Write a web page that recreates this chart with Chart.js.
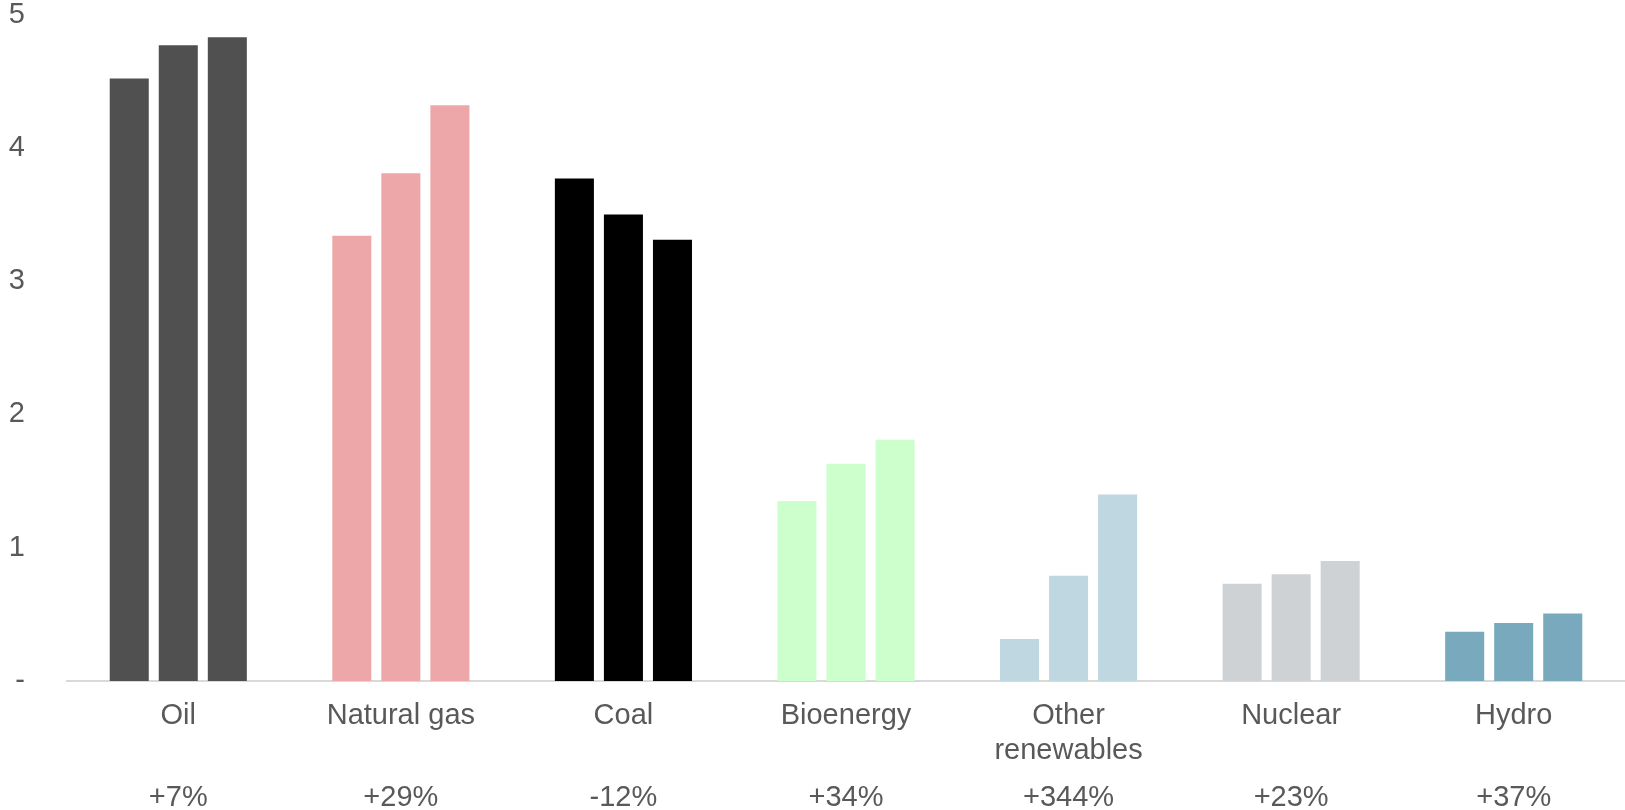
<!DOCTYPE html>
<html>
<head>
<meta charset="utf-8">
<script src="https://cdn.jsdelivr.net/npm/chart.js@4/dist/chart.umd.min.js"></script>
<style>
  html, body { margin: 0; padding: 0; background: #ffffff; }
  #wrap { width: 1625px; height: 810px; position: relative; }
</style>
</head>
<body>
<div id="wrap"><canvas id="chart"></canvas></div>
<script>
// Fuel categories (multi-line where the name wraps)
const categories = ['Oil', 'Natural gas', 'Coal', 'Bioenergy', ['Other', 'renewables'], 'Nuclear', 'Hydro'];

// Change from the first to the last period, shown under each category
const changeLabels = ['+7%', '+29%', '-12%', '+34%', '+344%', '+23%', '+37%'];

// Values for the three periods, one entry per category
const period1 = [4.52, 3.34, 3.77, 1.35, 0.315, 0.73, 0.37];
const period2 = [4.77, 3.81, 3.50, 1.63, 0.79, 0.80, 0.435];
const period3 = [4.83, 4.32, 3.31, 1.81, 1.40, 0.90, 0.506];

// Y axis ticks
const yTicks = [0, 1, 2, 3, 4, 5];

// One colour per category, shared by all three periods
const fuelColors = ['#505050', '#eda7a9', '#000000', '#ccffcc', '#bfd7e0', '#ced2d5', '#78a9bd'];

const textColor = '#595959';
const fontFamily = '"Liberation Sans", Arial, sans-serif';
const fontSize = 29;

const makeSet = (label, data) => ({
  label,
  data,
  backgroundColor: fuelColors,
  borderWidth: 0,
  barPercentage: 0.796,
  categoryPercentage: 0.661,
  xAxisID: 'x',
  yAxisID: 'y'
});

new Chart(document.getElementById('chart'), {
  type: 'bar',
  data: {
    labels: categories,
    datasets: [
      makeSet('Period 1', period1),
      makeSet('Period 2', period2),
      makeSet('Period 3', period3)
    ]
  },
  options: {
    responsive: true,
    maintainAspectRatio: false,
    animation: false,
    layout: { padding: { left: 9, right: 0, top: 0, bottom: 0 } },
    plugins: {
      legend: { display: false },
      tooltip: { enabled: false }
    },
    scales: {
      x: {
        type: 'category',
        position: 'bottom',
        weight: 1,
        offset: true,
        afterFit: (scale) => { scale.height = 100; },
        grid: { display: false, drawTicks: false },
        border: { display: true, color: '#d9d9d9', width: 2 },
        ticks: {
          color: textColor,
          font: { family: fontFamily, size: fontSize, lineHeight: 1.22 },
          padding: 17,
          maxRotation: 0,
          autoSkip: false
        }
      },
      x2: {
        type: 'category',
        position: 'bottom',
        weight: 2,
        offset: true,
        labels: changeLabels,
        afterFit: (scale) => { scale.height = 29; },
        grid: { display: false, drawTicks: false },
        border: { display: false },
        ticks: {
          color: textColor,
          font: { family: fontFamily, size: fontSize, lineHeight: 1.0 },
          padding: 2,
          maxRotation: 0,
          autoSkip: false
        }
      },
      y: {
        min: yTicks[0],
        max: yTicks[yTicks.length - 1],
        afterBuildTicks: (scale) => { scale.ticks = yTicks.map(v => ({ value: v })); },
        // keep the label gap without widening the axis box
        afterFit: (scale) => {
          scale.width = 58;
          scale.paddingTop = fontSize / 2;
          scale.paddingBottom = fontSize / 2;
        },
        grid: { display: false, drawTicks: false },
        border: { display: false },
        ticks: {
          color: textColor,
          font: { family: fontFamily, size: fontSize, lineHeight: 1.0 },
          padding: 42,
          callback: (v) => (v === 0 ? '-' : String(v))
        }
      }
    }
  }
});
</script>
</body>
</html>
